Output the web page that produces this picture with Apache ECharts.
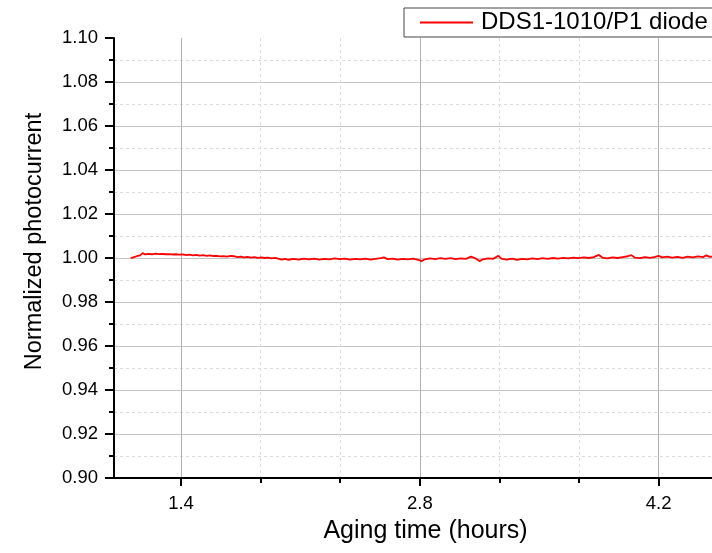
<!DOCTYPE html>
<html>
<head>
<meta charset="utf-8">
<script src="https://cdn.jsdelivr.net/npm/echarts@6/dist/echarts.min.js"></script>
<style>
html, body { margin: 0; padding: 0; background: #fff; }
#main { width: 712px; height: 553px; }
</style>
</head>
<body>
<div id="main"></div>
<script>
// aging time (hours) vs normalized photocurrent
var seriesName = 'DDS1-1010/P1 diode';
var xMajorTicks = [1.4, 2.8, 4.2];
var xMinorTicks = [1.8667, 2.3333, 3.2667, 3.7333];
var photoData = [
    [1.105, 0.9999], [1.12, 1.0003], [1.14, 1.0008], [1.16, 1.0012], [1.175, 1.0022],
    [1.19, 1.0016], [1.21, 1.0019], [1.23, 1.0017], [1.25, 1.0020], [1.27, 1.0018],
    [1.29, 1.0019], [1.31, 1.0017], [1.33, 1.0018], [1.35, 1.0016], [1.37, 1.0017],
    [1.39, 1.0015], [1.41, 1.0016], [1.43, 1.0013], [1.45, 1.0015], [1.47, 1.0012],
    [1.49, 1.0014], [1.51, 1.0011], [1.53, 1.0013], [1.55, 1.0010], [1.57, 1.0012],
    [1.59, 1.0009], [1.61, 1.0010], [1.63, 1.0007], [1.65, 1.0009], [1.67, 1.0006],
    [1.69, 1.0010], [1.70, 1.0018], [1.71, 1.0008], [1.73, 1.0004], [1.75, 1.0006],
    [1.77, 1.0003], [1.79, 1.0005], [1.81, 1.0002], [1.83, 1.0004], [1.85, 1.0001],
    [1.87, 1.0003], [1.89, 1.0000], [1.91, 1.0002], [1.93, 0.9998], [1.95, 1.0001],
    [1.97, 0.9997], [1.99, 0.9993], [2.01, 0.9996], [2.03, 0.9992], [2.06, 0.9996],
    [2.09, 0.9993], [2.12, 0.9997], [2.15, 0.9994], [2.18, 0.9997], [2.21, 0.9993],
    [2.24, 0.9996], [2.27, 0.9994], [2.30, 0.9998], [2.33, 0.9995], [2.36, 0.9997],
    [2.39, 0.9993], [2.42, 0.9996], [2.45, 0.9994], [2.48, 0.9997], [2.51, 0.9993],
    [2.54, 0.9996], [2.57, 0.9999], [2.59, 1.0003], [2.61, 0.9995], [2.64, 0.9997],
    [2.67, 0.9993], [2.70, 0.9996], [2.73, 0.9994], [2.76, 0.9997], [2.79, 0.9992],
    [2.81, 0.9986], [2.83, 0.9994], [2.86, 0.9998], [2.89, 0.9995], [2.92, 0.9999],
    [2.95, 0.9996], [2.98, 0.9999], [3.01, 0.9995], [3.04, 0.9998], [3.07, 0.9996],
    [3.10, 1.0006], [3.11, 1.0015], [3.13, 0.9997], [3.15, 0.9986], [3.17, 0.9994],
    [3.20, 0.9998], [3.23, 0.9996], [3.26, 1.0010], [3.28, 0.9996], [3.31, 0.9993],
    [3.34, 0.9997], [3.37, 0.9991], [3.40, 0.9996], [3.43, 0.9994], [3.46, 0.9998],
    [3.49, 0.9995], [3.52, 0.9999], [3.55, 0.9996], [3.58, 1.0000], [3.61, 0.9997],
    [3.64, 1.0001], [3.67, 0.9998], [3.70, 1.0002], [3.73, 0.9999], [3.76, 1.0003],
    [3.79, 1.0000], [3.82, 1.0004], [3.85, 1.0014], [3.87, 1.0002], [3.90, 0.9998],
    [3.93, 1.0003], [3.96, 1.0000], [3.99, 1.0004], [4.02, 1.0008], [4.04, 1.0013],
    [4.06, 1.0002], [4.09, 0.9999], [4.12, 1.0004], [4.15, 1.0001], [4.18, 1.0005],
    [4.20, 1.0010], [4.22, 1.0003], [4.25, 1.0006], [4.28, 1.0002], [4.31, 1.0005],
    [4.34, 1.0001], [4.37, 1.0006], [4.40, 1.0003], [4.43, 1.0007], [4.46, 1.0004],
    [4.48, 1.0012], [4.50, 1.0005], [4.52, 1.0007]
];

var myChart = echarts.init(document.getElementById('main'));
var font = 'Arial, "Liberation Sans", sans-serif';
var xMin = 1.007, xMax = 4.513;

var option = {
    animation: false,
    textStyle: { fontFamily: font },
    grid: { left: 114, right: 0, top: 38, bottom: 75, containLabel: false },
    legend: {
        left: 404,
        top: 8,
        padding: [2, 16, 2, 16],
        icon: 'rect',
        itemWidth: 53,
        itemHeight: 2,
        itemGap: 0,
        borderColor: '#444',
        borderWidth: 1,
        backgroundColor: '#fff',
        textStyle: { fontSize: 24, color: '#000', fontFamily: font, padding: [0, 0, 0, 3], lineHeight: 25 },
        data: [seriesName]
    },
    xAxis: [
        {   // major ticks / labels / solid grid
            type: 'value',
            min: xMin,
            max: xMax,
            name: 'Aging time (hours)',
            nameLocation: 'middle',
            nameGap: 41,
            nameTextStyle: { fontSize: 25, color: '#000', fontFamily: font, padding: [0, 0, 0, 25] },
            axisLine: { show: true, onZero: false, lineStyle: { color: '#000', width: 2 } },
            axisTick: { show: true, customValues: xMajorTicks, length: 8, lineStyle: { color: '#000', width: 2 } },
            axisLabel: {
                customValues: xMajorTicks,
                margin: 16,
                fontSize: 18.5,
                color: '#000',
                formatter: function (v) { return v.toFixed(1); }
            },
            splitLine: { show: true, lineStyle: { color: '#b0b0b0', width: 1 } }
        },
        {   // minor ticks and dashed minor grid
            type: 'value',
            min: xMin,
            max: xMax,
            position: 'bottom',
            axisLine: { show: false },
            axisTick: { show: true, customValues: xMinorTicks, length: 5, lineStyle: { color: '#000', width: 2 } },
            axisLabel: { show: false, customValues: xMinorTicks },
            splitLine: { show: true, lineStyle: { color: '#dcdcdc', width: 1, type: [3, 3] } }
        }
    ],
    yAxis: {
        type: 'value',
        min: 0.9,
        max: 1.1,
        interval: 0.02,
        name: 'Normalized photocurrent',
        nameLocation: 'middle',
        nameGap: 67,
        nameTextStyle: { fontSize: 23.5, color: '#000', fontFamily: font, padding: [0, 0, 0, 33] },
        axisLine: { show: true, onZero: false, lineStyle: { color: '#000', width: 2 } },
        axisTick: { show: true, length: 9, lineStyle: { color: '#000', width: 2 } },
        minorTick: { show: true, splitNumber: 2, length: 5, lineStyle: { color: '#000', width: 2 } },
        axisLabel: {
            margin: 16,
            fontSize: 18.5,
            color: '#000',
            formatter: function (v) { return v.toFixed(2); }
        },
        splitLine: { show: true, showMaxLine: false, lineStyle: { color: '#c4c4c4', width: 1 } },
        minorSplitLine: { show: true, lineStyle: { color: '#dcdcdc', width: 1, type: [3, 3] } }
    },
    series: [
        {
            name: seriesName,
            type: 'line',
            xAxisIndex: 0,
            data: photoData,
            symbol: 'none',
            showSymbol: false,
            lineStyle: { color: '#ff0000', width: 1.8 },
            itemStyle: { color: '#ff0000' }
        }
    ]
};

myChart.setOption(option);
</script>
</body>
</html>
